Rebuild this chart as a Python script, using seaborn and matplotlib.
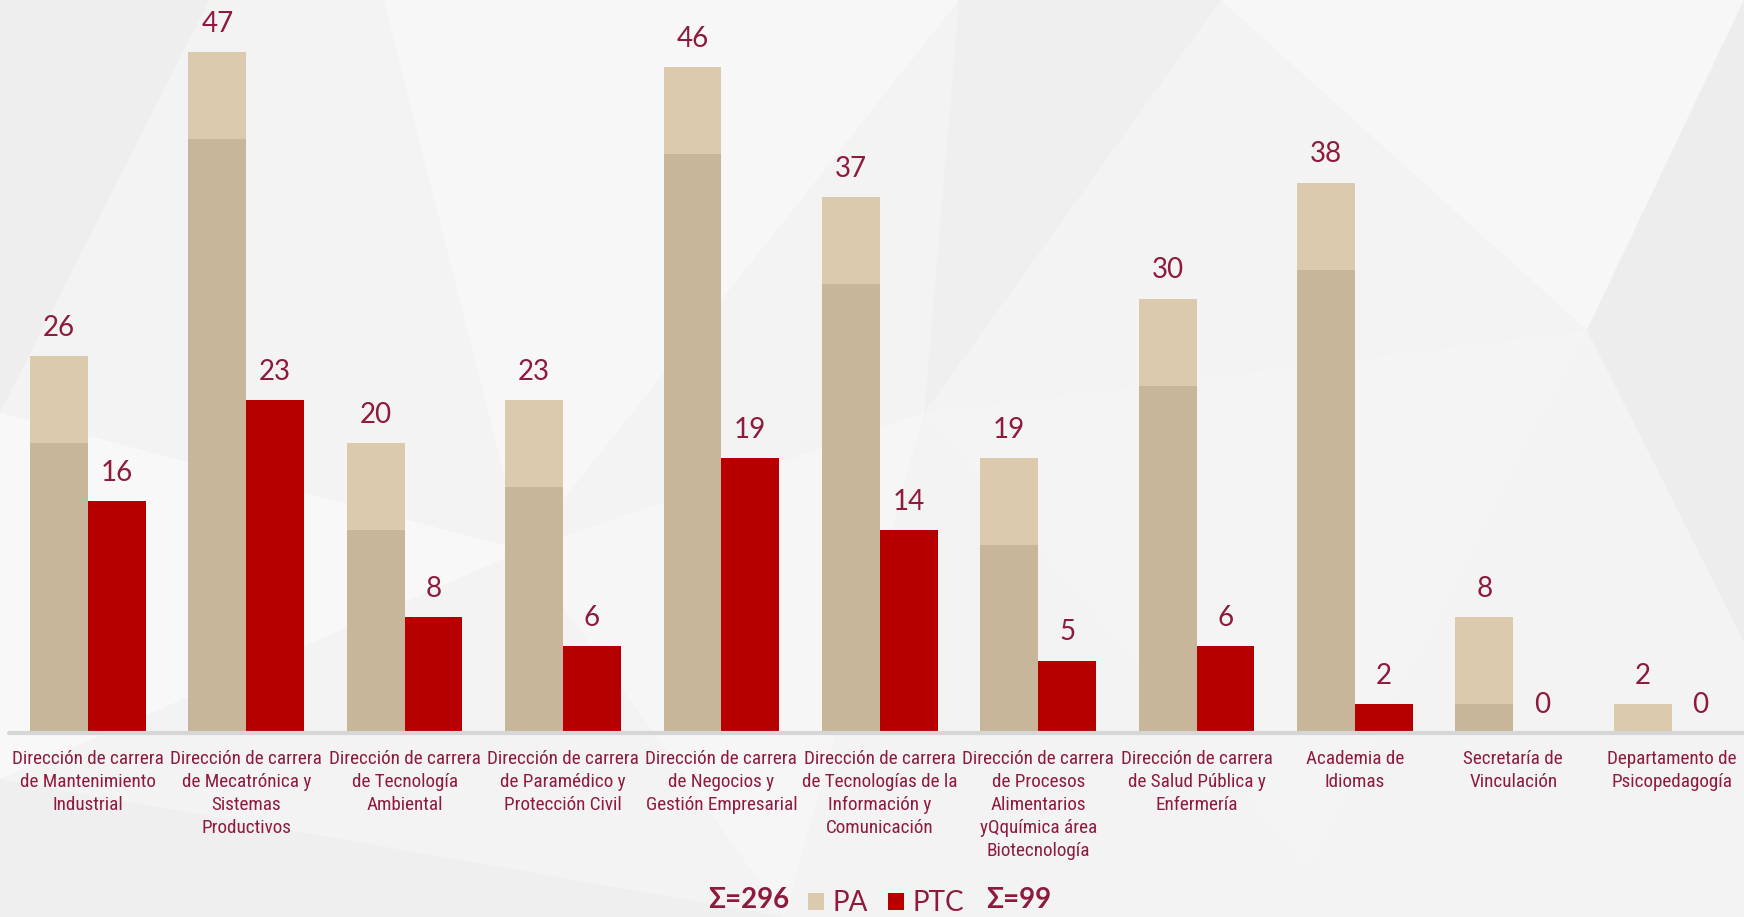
import matplotlib
matplotlib.use("Agg")
import matplotlib.pyplot as plt
import matplotlib.transforms as mtransforms
from matplotlib.patches import Rectangle, Polygon
import pandas as pd
import seaborn as sns

# datos
areas = [
    "Dirección de carrera\nde Mantenimiento\nIndustrial",
    "Dirección de carrera\nde Mecatrónica y\nSistemas\nProductivos",
    "Dirección de carrera\nde Tecnología\nAmbiental",
    "Dirección de carrera\nde Paramédico y\nProtección Civil",
    "Dirección de carrera\nde Negocios y\nGestión Empresarial",
    "Dirección de carrera\nde Tecnologías de la\nInformación y\nComunicación",
    "Dirección de carrera\nde Procesos\nAlimentarios\nyQquímica área\nBiotecnología",
    "Dirección de carrera\nde Salud Pública y\nEnfermería",
    "Academia de\nIdiomas",
    "Secretaría de\nVinculación",
    "Departamento de\nPsicopedagogía",
]
pa = [26, 47, 20, 23, 46, 37, 19, 30, 38, 8, 2]
ptc = [16, 23, 8, 6, 19, 14, 5, 6, 2, 0, 0]
series = ["PA", "PTC"]
totals = ["Σ=296", "Σ=99"]

MAROON = "#8E1B3C"
colores = {"PA": "#DCCAAF", "PTC": "#B60000"}

df = pd.DataFrame({
    "area": areas * 2,
    "serie": ["PA"] * len(areas) + ["PTC"] * len(areas),
    "valor": pa + ptc,
})

sns.set_theme(style="white")
plt.rcParams["font.family"] = ["Lato", "DejaVu Sans"]

fig = plt.figure(figsize=(17.44, 9.17), dpi=100)
fig.patch.set_facecolor("#F3F3F3")

# fondo poligonal gris claro (decorativo)
fondo = [
    ([(0.0, 1.0), (0.12, 1.0), (0.0, 0.55)], "#EEEEEE"),
    ([(0.22, 1.0), (0.55, 1.0), (0.30, 0.40)], "#F7F7F7"),
    ([(0.0, 0.55), (0.30, 0.40), (0.0, 0.15)], "#F8F8F8"),
    ([(0.55, 1.0), (0.70, 1.0), (0.53, 0.55)], "#EFEFEF"),
    ([(0.70, 1.0), (1.0, 1.0), (0.91, 0.64)], "#F7F7F7"),
    ([(0.91, 0.64), (1.0, 1.0), (1.0, 0.30)], "#EDEDED"),
    ([(0.0, 0.15), (0.45, 0.0), (0.0, 0.0)], "#EFEFEF"),
    ([(0.30, 0.40), (0.53, 0.55), (0.45, 0.0)], "#F6F6F6"),
    ([(0.53, 0.55), (0.91, 0.64), (0.75, 0.05)], "#F4F4F4"),
]
for pts, c in fondo:
    fig.patches.append(Polygon(pts, closed=True, transform=fig.transFigure,
                               facecolor=c, edgecolor="none", zorder=-10))

ax = fig.add_axes([0.005, 0.2007, 0.9989, 0.7896])
ax.set_facecolor("none")

sns.barplot(data=df, x="area", y="valor", hue="serie", hue_order=series,
            palette=colores, width=0.73, saturation=1, legend=False,
            linewidth=0, ax=ax, zorder=2)

ax.set_xlim(-0.5, len(areas) - 0.5)
ax.set_ylim(0, 50)

# sombra inferior de las barras PA (efecto del original)
desplazamiento = mtransforms.ScaledTranslation(0, -0.87, fig.dpi_scale_trans)
for barra in ax.containers[0]:
    sombra = Rectangle(barra.get_xy(), barra.get_width(), barra.get_height(),
                       facecolor="#C8B69B", edgecolor="none", zorder=2.5,
                       transform=ax.transData + desplazamiento)
    ax.add_patch(sombra)

for cont in ax.containers:
    ax.bar_label(cont, padding=11, fontsize=20, color=MAROON)

ax.axhline(0, color="#D6D6D6", lw=3, zorder=3, clip_on=False)

ax.set_xlabel("")
ax.set_ylabel("")
ax.set_yticks([])
ax.tick_params(axis="x", length=0, pad=12)
for lbl in ax.get_xticklabels():
    lbl.set_family(["Roboto Condensed", "Liberation Sans Narrow", "Lato", "DejaVu Sans"])
    lbl.set_fontsize(13.8)
    lbl.set_color(MAROON)
    lbl.set_linespacing(1.36)
sns.despine(ax=ax, left=True, bottom=True, top=True, right=True)

# leyenda inferior
handles = [Rectangle((0, 0), 1, 1, facecolor=colores[s], edgecolor="none") for s in series]
leg = fig.legend(handles, series, loc="center", bbox_to_anchor=(0.508, 0.015),
                 ncol=2, frameon=False, fontsize=20, handlelength=0.6,
                 handleheight=0.6, handletextpad=0.3, columnspacing=0.7)
for t in leg.get_texts():
    t.set_color(MAROON)

fig.text(0.4295, 0.018, totals[0], ha="center", va="center", fontsize=20,
         fontweight="bold", color=MAROON)
fig.text(0.584, 0.018, totals[1], ha="center", va="center", fontsize=20,
         fontweight="bold", color=MAROON)

fig.savefig("out.png", dpi=100, facecolor=fig.get_facecolor())
